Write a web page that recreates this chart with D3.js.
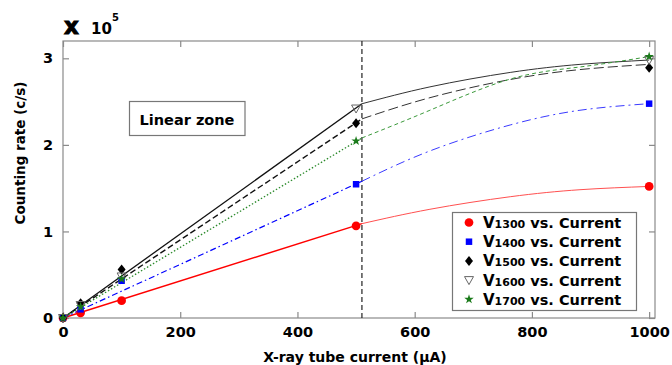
<!DOCTYPE html>
<html><head><meta charset="utf-8">
<script src="https://cdn.jsdelivr.net/npm/d3@7"></script>
<style>
body{margin:0;background:#fff;}
text{font-family:"DejaVu Sans",Verdana,sans-serif;font-weight:bold;}
</style></head>
<body><svg id="c" width="672" height="365"></svg>
<script>
// Measured data (counting rate in units of 1e5 c/s)
const currents = [0, 30, 100, 500, 1000];
const v1300 = [0, 0.06, 0.20, 1.065, 1.52];
const v1400 = [0, 0.10, 0.43, 1.545, 2.476];
const v1500 = [0, 0.17, 0.56, 2.25, 2.89];
const v1600 = [0, 0.15, 0.48, 2.42, 2.98];
const v1700 = [0, 0.13, 0.45, 2.045, 3.02];
// Fit lines: linear zone (0..510) and saturation curves (510..1000)
const linX = [0, 510];
const lin1300 = [0, 1.09];
const lin1400 = [0, 1.58];
const lin1500 = [0, 2.30];
const lin1600 = [0, 2.475];
const lin1700 = [0, 2.08];
const fitX = [510, 626, 763, 882, 1000];
const fit1300 = [1.09, 1.256, 1.401, 1.482, 1.52];
const fit1400 = [1.58, 1.93, 2.23, 2.40, 2.476];
const fit1500 = [2.30, 2.545, 2.755, 2.87, 2.93];
const fit1600 = [2.475, 2.67, 2.837, 2.93, 2.98];
const fit1700 = [2.08, 2.40, 2.76, 2.90, 3.02];
const boundary = 510;
const xTicks = [0, 200, 400, 600, 800, 1000];
const yTicks = [0, 1, 2, 3];
const seriesNames = ["1300", "1400", "1500", "1600", "1700"];

const svg = d3.select("#c");
const L = 63, R = 655, T = 41, B = 318;
const x = d3.scaleLinear().domain([0, 1010]).range([L, R]);
const y = d3.scaleLinear().domain([0, 3.2]).range([B, T]);
const frame = "#8a8a8a";

// frame
svg.append("rect").attr("x", L).attr("y", T).attr("width", R - L).attr("height", B - T)
  .attr("fill", "none").attr("stroke", frame).attr("stroke-width", 1.2);

function styleAxis(g, show) {
  g.select(".domain").remove();
  g.selectAll(".tick line").attr("stroke", frame).attr("stroke-width", 1.2);
  g.selectAll(".tick text").attr("font-size", 14.5).attr("fill", "#000")
    .attr("font-family", "DejaVu Sans").attr("font-weight", "bold");
  if (!show) g.selectAll(".tick text").remove();
}
svg.append("g").attr("transform", `translate(0,${B})`)
  .call(d3.axisBottom(x).tickValues(xTicks).tickSizeInner(-6).tickSizeOuter(0).tickPadding(9).tickFormat(d3.format("d")))
  .call(g => styleAxis(g, true));
svg.append("g").attr("transform", `translate(0,${T})`)
  .call(d3.axisTop(x).tickValues(xTicks).tickSizeInner(-6).tickSizeOuter(0))
  .call(g => styleAxis(g, false));
svg.append("g").attr("transform", `translate(${L},0)`)
  .call(d3.axisLeft(y).tickValues(yTicks).tickSizeInner(-6).tickSizeOuter(0).tickPadding(10).tickFormat(d3.format("d")))
  .call(g => styleAxis(g, true));
svg.append("g").attr("transform", `translate(${R},0)`)
  .call(d3.axisRight(y).tickValues(yTicks).tickSizeInner(-6).tickSizeOuter(0))
  .call(g => styleAxis(g, false));

// boundary dashed line
svg.append("line").attr("x1", x(boundary)).attr("x2", x(boundary)).attr("y1", T).attr("y2", B)
  .attr("stroke", "#222").attr("stroke-width", 1.2).attr("stroke-dasharray", "5,3");

const line = d3.line().x(d => x(d[0])).y(d => y(d[1]));
const curve = d3.line().x(d => x(d[0])).y(d => y(d[1])).curve(d3.curveNatural);
const zip = (a, b) => a.map((v, i) => [v, b[i]]);

const linStyles = [
  {d: lin1300, c: "#ff0000", w: 1.5, dash: null},
  {d: lin1400, c: "#0000ff", w: 1.2, dash: "6,3,1.5,3"},
  {d: lin1500, c: "#111", w: 1.4, dash: "6,3"},
  {d: lin1600, c: "#111", w: 1.3, dash: null},
  {d: lin1700, c: "#2b8a2b", w: 1.3, dash: "1.5,2"}
];
const fitStyles = [
  {d: fit1300, c: "#ff5050", w: 1, dash: null},
  {d: fit1400, c: "#3a3aff", w: 1, dash: "9,4,2,4"},
  {d: fit1500, c: "#333", w: 1, dash: "10,4"},
  {d: fit1600, c: "#333", w: 1, dash: null},
  {d: fit1700, c: "#3c9a3c", w: 1, dash: "4,3"}
];
linStyles.forEach(s => {
  svg.append("path").attr("d", line(zip(linX, s.d))).attr("fill", "none")
    .attr("stroke", s.c).attr("stroke-width", s.w).attr("stroke-dasharray", s.dash);
});
fitStyles.forEach(s => {
  svg.append("path").attr("d", curve(zip(fitX, s.d))).attr("fill", "none")
    .attr("stroke", s.c).attr("stroke-width", s.w).attr("stroke-dasharray", s.dash);
});

// markers
const symCircle = d3.symbol().type(d3.symbolCircle).size(60);
const symSquare = d3.symbol().type(d3.symbolSquare).size(42);
const diamond = "M0,-5L4,0L0,5L-4,0Z";
const symStar = d3.symbol().type(d3.symbolStar).size(28);
const triDown = "M-4.5,-3.5L4.5,-3.5L0,4.5Z";
const markerDefs = [
  {vals: v1300, path: symCircle(), fill: "#ff0000", stroke: "none"},
  {vals: v1400, path: symSquare(), fill: "#0000ff", stroke: "none"},
  {vals: v1500, path: diamond, fill: "#000", stroke: "none"},
  {vals: v1600, path: triDown, fill: "none", stroke: "#666"},
  {vals: v1700, path: symStar(), fill: "#1a7a1a", stroke: "none"}
];
markerDefs.forEach(m => {
  svg.append("g").selectAll("path").data(zip(currents, m.vals)).join("path")
    .attr("transform", d => `translate(${x(d[0])},${y(d[1])})`)
    .attr("d", m.path).attr("fill", m.fill).attr("stroke", m.stroke).attr("stroke-width", 1);
});

// Linear zone box
svg.append("rect").attr("x", 129.5).attr("y", 101.5).attr("width", 115.5).attr("height", 34)
  .attr("fill", "#fff").attr("stroke", "#777").attr("stroke-width", 1.2);
svg.append("text").attr("x", 187).attr("y", 124.5).attr("text-anchor", "middle")
  .attr("font-size", 14.5).text("Linear zone");

// legend
svg.append("rect").attr("x", 452.5).attr("y", 212.5).attr("width", 184).attr("height", 98)
  .attr("fill", "#fff").attr("stroke", "#777").attr("stroke-width", 1.2);
markerDefs.forEach((m, i) => {
  const cy = 222.5 + i * 19.2;
  svg.append("path").attr("transform", `translate(469,${cy})`).attr("d", m.path)
    .attr("fill", m.fill).attr("stroke", m.stroke).attr("stroke-width", 1);
  const t = svg.append("text").attr("x", 483).attr("y", cy + 5.5).attr("font-size", 15);
  t.append("tspan").text("V");
  t.append("tspan").attr("font-size", 11).text(seriesNames[i]);
  t.append("tspan").attr("font-size", 14.5).text(" vs. Current");
});

// axis titles
svg.append("text").attr("x", 355).attr("y", 362).attr("text-anchor", "middle")
  .attr("font-size", 14).text("X-ray tube current (\u03BCA)");
svg.append("text").attr("transform", "translate(25,153) rotate(-90)").attr("text-anchor", "middle")
  .attr("font-size", 13.5).text("Counting rate (c/s)");

// multiplier
svg.append("text").attr("x", 64).attr("y", 33.5).attr("font-size", 23)
  .attr("font-family", "Liberation Sans").attr("font-weight", "bold")
  .attr("stroke", "#000").attr("stroke-width", 1).text("x");
svg.append("text").attr("x", 91).attr("y", 33.5).attr("font-size", 15)
  .attr("font-family", "Liberation Sans").attr("font-weight", "normal").text("10");
svg.append("text").attr("x", 112).attr("y", 21).attr("font-size", 10)
  .attr("font-family", "Liberation Sans").attr("font-weight", "normal").text("5");
</script></body></html>
